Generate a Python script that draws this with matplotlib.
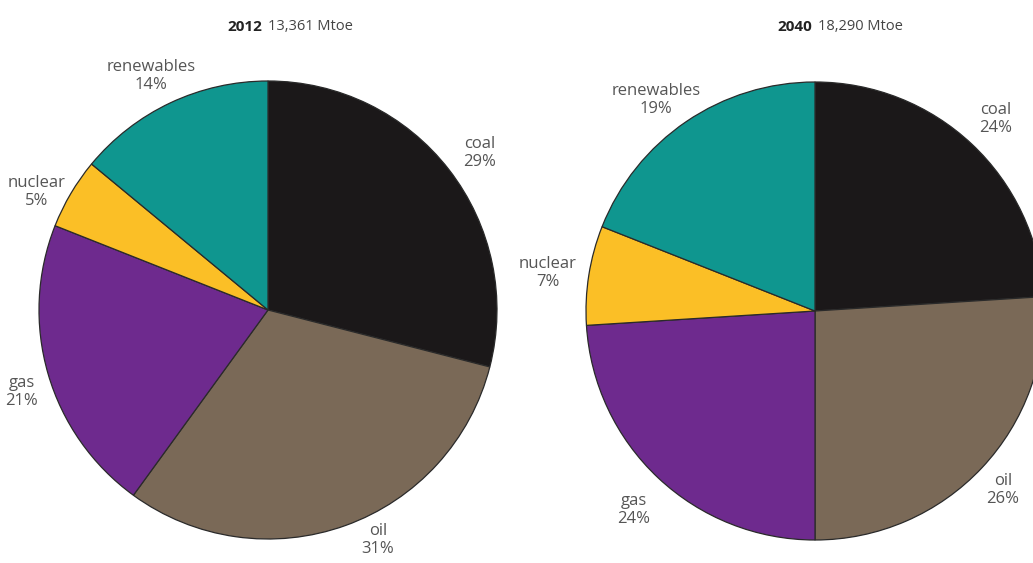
import matplotlib.pyplot as plt

plt.rcParams['font.family'] = ['Open Sans', 'DejaVu Sans']

# Primary energy mix, shares in percent
fuels = ["coal", "oil", "gas", "nuclear", "renewables"]
share_2012 = [29, 31, 21, 5, 14]
share_2040 = [24, 26, 24, 7, 19]
years = ["2012", "2040"]
totals = ["13,361 Mtoe", "18,290 Mtoe"]

colors = ["#1b1819", "#7a6957", "#6e2a8e", "#fbbf26", "#0f968f"]

W, H = 1033, 563
fig = plt.figure(figsize=(W / 100, H / 100), dpi=100)
ax = fig.add_axes([0, 0, 1, 1])

centers = [(268, 253), (815, 252)]
radius = 229

# label anchor points (pixels from top-left) for each fuel, per pie
label_pos = [
    [(480, 153), (378, 540), (22, 392), (37, 192), (151, 76)],
    [(996, 119), (1003, 490), (634, 510), (548, 273), (656, 100)],
]
title_split = [265, 815]

for k, shares in enumerate([share_2012, share_2040]):
    cx, cy = centers[k]
    ax.pie(shares, colors=colors, startangle=90, counterclock=False,
           center=(cx, cy), radius=radius, frame=True,
           wedgeprops=dict(edgecolor="#2a2a2a", linewidth=0.9))
    for name, val, (lx, ly) in zip(fuels, shares, label_pos[k]):
        ax.text(lx, H - ly, f"{name}\n{val}%", ha="center", va="center",
                fontsize=12, color="#555555", linespacing=1.15)
    sx = title_split[k]
    ax.text(sx - 3, H - 27, years[k], ha="right", va="center",
            fontsize=11, fontweight="bold", color="#222222")
    ax.text(sx + 3, H - 27, totals[k], ha="left", va="center",
            fontsize=10.5, color="#444444")

ax.set_xlim(0, W)
ax.set_ylim(0, H)
ax.set_aspect("equal")
ax.axis("off")

fig.savefig("out.png", dpi=100, facecolor="white")
